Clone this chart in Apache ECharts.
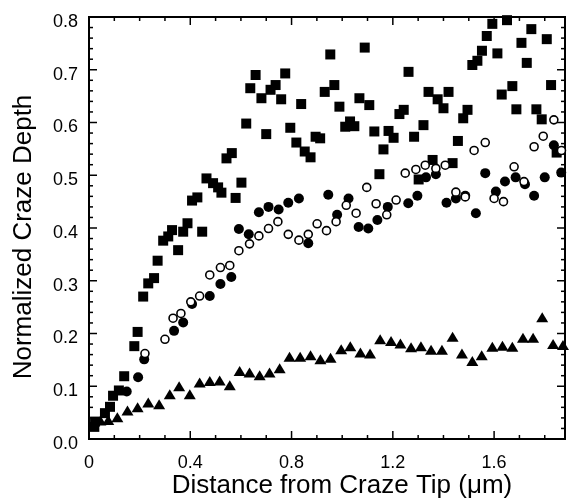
<!DOCTYPE html>
<html>
<head>
<meta charset="utf-8">
<script src="https://cdn.jsdelivr.net/npm/echarts@6/dist/echarts.min.js"></script>
<style>
  html, body { margin: 0; padding: 0; background: #fff; }
  #chart { width: 569px; height: 502px; background: #fff; }
</style>
</head>
<body>
<div id="chart"></div>
<script>
// filled squares
const squareX = [0.021, 0.024, 0.063, 0.083, 0.095, 0.118, 0.139, 0.179, 0.192, 0.214, 0.234, 0.257, 0.271, 0.293, 0.313, 0.328, 0.352, 0.372, 0.389, 0.407, 0.428, 0.447, 0.464, 0.490, 0.510, 0.523, 0.543, 0.564, 0.579, 0.602, 0.621, 0.637, 0.658, 0.681, 0.700, 0.717, 0.737, 0.759, 0.775, 0.795, 0.819, 0.838, 0.852, 0.875, 0.895, 0.913, 0.931, 0.953, 0.969, 0.989, 1.012, 1.031, 1.048, 1.068, 1.089, 1.107, 1.127, 1.147, 1.163, 1.183, 1.203, 1.226, 1.243, 1.262, 1.284, 1.302, 1.321, 1.341, 1.357, 1.377, 1.400, 1.420, 1.436, 1.457, 1.478, 1.495, 1.514, 1.534, 1.552, 1.571, 1.593, 1.613, 1.630, 1.651, 1.672, 1.688, 1.708, 1.729, 1.747, 1.767, 1.788, 1.808, 1.825, 1.847];
const squareY = [0.023, 0.033, 0.049, 0.061, 0.082, 0.092, 0.119, 0.176, 0.203, 0.270, 0.295, 0.305, 0.338, 0.376, 0.384, 0.396, 0.358, 0.393, 0.409, 0.452, 0.458, 0.393, 0.494, 0.485, 0.477, 0.467, 0.532, 0.542, 0.457, 0.486, 0.598, 0.665, 0.690, 0.646, 0.578, 0.662, 0.671, 0.644, 0.693, 0.590, 0.562, 0.635, 0.545, 0.534, 0.573, 0.570, 0.658, 0.729, 0.671, 0.630, 0.592, 0.602, 0.593, 0.646, 0.742, 0.633, 0.583, 0.502, 0.549, 0.584, 0.571, 0.616, 0.624, 0.696, 0.573, 0.492, 0.595, 0.658, 0.529, 0.644, 0.627, 0.658, 0.523, 0.565, 0.608, 0.624, 0.709, 0.717, 0.736, 0.764, 0.787, 0.731, 0.653, 0.794, 0.669, 0.625, 0.751, 0.713, 0.777, 0.625, 0.606, 0.758, 0.671, 0.543];

// filled circles
const dotX = [0.149, 0.194, 0.218, 0.336, 0.372, 0.407, 0.477, 0.519, 0.562, 0.592, 0.631, 0.671, 0.709, 0.749, 0.787, 0.829, 0.866, 0.945, 0.980, 1.025, 1.065, 1.103, 1.139, 1.180, 1.261, 1.297, 1.331, 1.370, 1.412, 1.449, 1.486, 1.528, 1.565, 1.607, 1.643, 1.685, 1.722, 1.758, 1.800, 1.836, 1.865];
const dotY = [0.090, 0.117, 0.151, 0.205, 0.221, 0.256, 0.271, 0.294, 0.307, 0.398, 0.388, 0.430, 0.440, 0.435, 0.448, 0.456, 0.371, 0.463, 0.425, 0.456, 0.402, 0.399, 0.415, 0.440, 0.447, 0.461, 0.496, 0.502, 0.448, 0.456, 0.461, 0.428, 0.504, 0.469, 0.488, 0.496, 0.483, 0.461, 0.496, 0.557, 0.505];

// open circles
const ringX = [0.221, 0.300, 0.332, 0.363, 0.402, 0.437, 0.477, 0.519, 0.556, 0.592, 0.634, 0.671, 0.709, 0.746, 0.787, 0.829, 0.866, 0.901, 0.938, 0.976, 1.016, 1.055, 1.097, 1.134, 1.176, 1.213, 1.249, 1.291, 1.328, 1.370, 1.407, 1.449, 1.486, 1.521, 1.565, 1.600, 1.637, 1.679, 1.718, 1.758, 1.794, 1.836, 1.866];
const ringY = [0.162, 0.189, 0.229, 0.238, 0.260, 0.271, 0.311, 0.325, 0.329, 0.357, 0.370, 0.385, 0.399, 0.412, 0.388, 0.377, 0.388, 0.408, 0.395, 0.412, 0.443, 0.428, 0.477, 0.446, 0.425, 0.453, 0.504, 0.511, 0.519, 0.513, 0.519, 0.468, 0.459, 0.547, 0.562, 0.456, 0.450, 0.516, 0.488, 0.554, 0.574, 0.605, 0.547];

// filled triangles
const triX = [0.045, 0.076, 0.112, 0.152, 0.192, 0.234, 0.277, 0.319, 0.356, 0.398, 0.437, 0.477, 0.516, 0.556, 0.595, 0.634, 0.674, 0.713, 0.753, 0.792, 0.834, 0.875, 0.914, 0.954, 0.996, 1.032, 1.072, 1.110, 1.150, 1.193, 1.230, 1.272, 1.311, 1.351, 1.394, 1.436, 1.473, 1.514, 1.551, 1.593, 1.633, 1.672, 1.714, 1.754, 1.790, 1.833, 1.872];
const triY = [0.035, 0.036, 0.041, 0.054, 0.060, 0.069, 0.066, 0.085, 0.100, 0.085, 0.107, 0.110, 0.111, 0.102, 0.129, 0.126, 0.121, 0.126, 0.134, 0.156, 0.156, 0.159, 0.151, 0.154, 0.170, 0.176, 0.164, 0.162, 0.189, 0.186, 0.181, 0.174, 0.176, 0.169, 0.169, 0.194, 0.162, 0.148, 0.159, 0.175, 0.177, 0.175, 0.192, 0.192, 0.231, 0.180, 0.178];

// axes and tick marks (drawn on all four sides, pointing inward)
const xRange = [0, 1.88];
const yRange = [0, 0.8];
const xMajorTicks = [0, 0.4, 0.8, 1.2, 1.6];
const xMinorTicks = [0.1, 0.2, 0.3, 0.5, 0.6, 0.7, 0.9, 1.0, 1.1, 1.3, 1.4, 1.5, 1.7, 1.8];
const yMajorTicks = [0, 0.1, 0.2, 0.3, 0.4, 0.5, 0.6, 0.7, 0.8];
const yMinorTicks = [0.02, 0.04, 0.06, 0.08, 0.12, 0.14, 0.16, 0.18, 0.22, 0.24, 0.26, 0.28, 0.32, 0.34, 0.36, 0.38, 0.42, 0.44, 0.46, 0.48, 0.52, 0.54, 0.56, 0.58, 0.62, 0.64, 0.66, 0.68, 0.72, 0.74, 0.76, 0.78];
const xTitle = "Distance from Craze Tip (\u03bcm)";
const yTitle = "Normalized Craze Depth";

const pairs = (xs, ys) => xs.map((x, i) => [x, ys[i]]);
const font = "'Liberation Sans', Arial, Helvetica, sans-serif";

// one entry per tick mark, plus the frame
const tickSpecs = [{ kind: "frame" }]
  .concat(xMajorTicks.map((v) => ({ kind: "x", v, len: 8 })))
  .concat(xMinorTicks.map((v) => ({ kind: "x", v, len: 4 })))
  .concat(yMajorTicks.map((v) => ({ kind: "y", v, len: 8 })))
  .concat(yMinorTicks.map((v) => ({ kind: "y", v, len: 4 })));

function renderTick(params, api) {
  const t = tickSpecs[params.dataIndex];
  const tl = api.coord([xRange[0], yRange[1]]);
  const br = api.coord([xRange[1], yRange[0]]);
  if (t.kind === "frame") {
    return {
      type: "rect",
      shape: { x: tl[0], y: tl[1], width: br[0] - tl[0], height: br[1] - tl[1] },
      style: { fill: "none", stroke: "#000", lineWidth: 2 },
    };
  }
  const style = { stroke: "#000", lineWidth: 1.5 };
  if (t.kind === "x") {
    const px = api.coord([t.v, yRange[0]])[0];
    return {
      type: "group",
      children: [
        { type: "line", shape: { x1: px, y1: br[1], x2: px, y2: br[1] - t.len }, style },
        { type: "line", shape: { x1: px, y1: tl[1], x2: px, y2: tl[1] + t.len }, style },
      ],
    };
  }
  const py = api.coord([xRange[0], t.v])[1];
  return {
    type: "group",
    children: [
      { type: "line", shape: { x1: tl[0], y1: py, x2: tl[0] + t.len, y2: py }, style },
      { type: "line", shape: { x1: br[0], y1: py, x2: br[0] - t.len, y2: py }, style },
    ],
  };
}

function scatter(name, xs, ys, symbol, size, itemStyle) {
  return {
    name,
    type: "scatter",
    data: pairs(xs, ys),
    symbol,
    symbolSize: size,
    itemStyle: Object.assign({ opacity: 1 }, itemStyle),
  };
}

const chart = echarts.init(document.getElementById("chart"));
chart.setOption({
  animation: false,
  grid: { left: 89, top: 17, width: 476, height: 422, outerBoundsMode: "none" },
  xAxis: {
    type: "value",
    min: xRange[0],
    max: xRange[1],
    interval: 0.4,
    axisLine: { show: false },
    axisTick: { show: false },
    splitLine: { show: false },
    axisLabel: {
      margin: 15,
      color: "#000",
      fontFamily: font,
      fontSize: 18,
      showMaxLabel: false,
      formatter: (v) => (v === 0 ? "0" : v.toFixed(1)),
    },
  },
  yAxis: {
    type: "value",
    min: yRange[0],
    max: yRange[1],
    interval: 0.1,
    axisLine: { show: false },
    axisTick: { show: false },
    splitLine: { show: false },
    axisLabel: {
      margin: 11,
      color: "#000",
      fontFamily: font,
      fontSize: 18,
      verticalAlign: "top",
      lineHeight: 10,
      formatter: (v) => v.toFixed(1),
    },
  },
  graphic: [
    {
      type: "text",
      x: 342,
      y: 486,
      style: { text: xTitle, fill: "#000", font: "26px " + font, textAlign: "center", textVerticalAlign: "middle" },
    },
    {
      type: "text",
      x: 24,
      y: 237,
      rotation: Math.PI / 2,
      style: { text: yTitle, fill: "#000", font: "26px " + font, textAlign: "center", textVerticalAlign: "middle" },
    },
  ],
  series: [
    {
      name: "frame",
      type: "custom",
      silent: true,
      clip: false,
      renderItem: renderTick,
      data: tickSpecs.map((t, i) => [i]),
    },
    scatter("squares", squareX, squareY, "rect", 10, { color: "#000" }),
    scatter("filled circles", dotX, dotY, "circle", 10, { color: "#000" }),
    scatter("open circles", ringX, ringY, "circle", 8, { color: "#fff", borderColor: "#000", borderWidth: 1.6 }),
    scatter("triangles", triX, triY, "triangle", [12, 10], { color: "#000" }),
  ],
});
</script>
</body>
</html>
